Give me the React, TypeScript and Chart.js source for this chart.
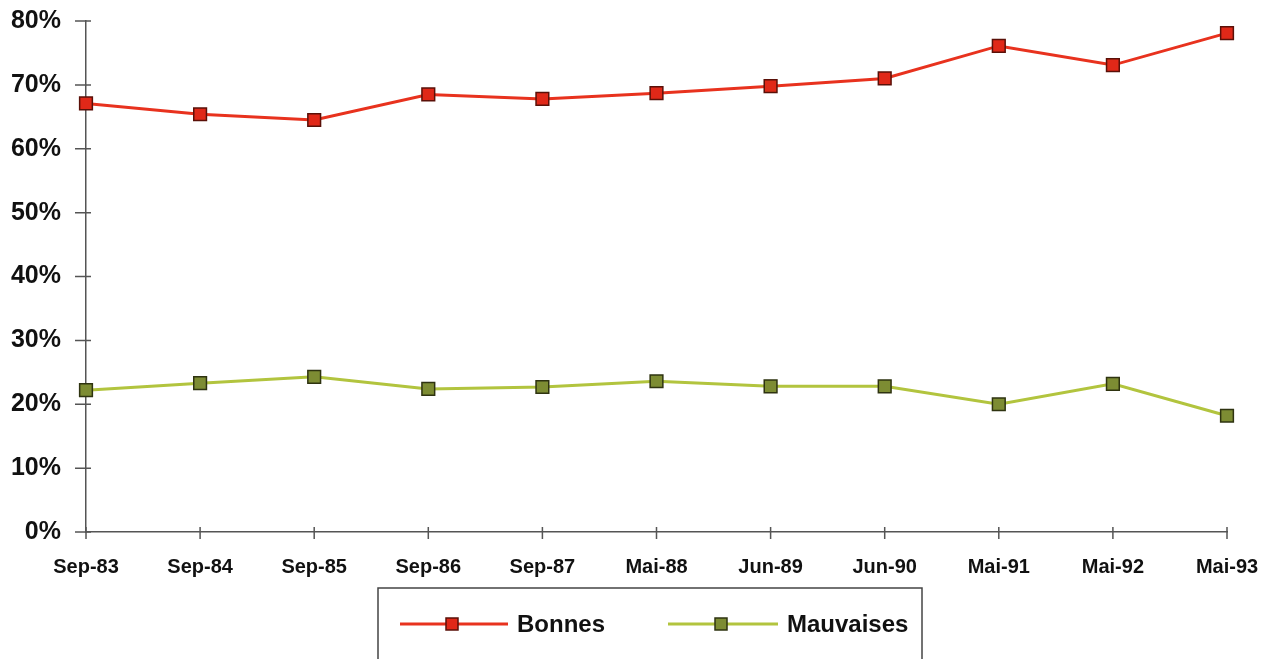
import React, { useEffect, useRef } from "react";
import { Chart, registerables } from "chart.js";

Chart.register(...registerables);

const categories = ["Sep-83", "Sep-84", "Sep-85", "Sep-86", "Sep-87", "Mai-88", "Jun-89", "Jun-90", "Mai-91", "Mai-92", "Mai-93"];
const bonnes = [67.1, 65.4, 64.5, 68.5, 67.8, 68.7, 69.8, 71.0, 76.1, 73.1, 78.1];
const mauvaises = [22.2, 23.3, 24.3, 22.4, 22.7, 23.6, 22.8, 22.8, 20.0, 23.2, 18.2];
const seriesNames = ["Bonnes", "Mauvaises"];
const yTicks = [0, 10, 20, 30, 40, 50, 60, 70, 80];

const FONT = "'Liberation Sans', Arial, sans-serif";

const RED_LINE = "#e8321e";
const RED_FILL = "#e02818";
const RED_EDGE = "#5a1008";
const GREEN_LINE = "#b2c43e";
const GREEN_FILL = "#7d8c33";
const GREEN_EDGE = "#2e3310";

const crossTicks = {
  id: "crossTicks",
  afterDraw(chart: any) {
    const ctx = chart.ctx;
    const { left, bottom } = chart.chartArea;
    const xs = chart.scales.x;
    const ys = chart.scales.y;
    ctx.save();
    ctx.strokeStyle = "#555";
    ctx.lineWidth = 1.5;
    ctx.beginPath();
    yTicks.forEach((v) => {
      const y = ys.getPixelForValue(v);
      ctx.moveTo(left - 11, y);
      ctx.lineTo(left + 5, y);
    });
    categories.forEach((_, i) => {
      const x = xs.getPixelForValue(i);
      ctx.moveTo(x, bottom - 5);
      ctx.lineTo(x, bottom + 7);
    });
    ctx.stroke();
    ctx.restore();
  },
};

function drawMarker(ctx: any, x: number, y: number, fill: string, edge: string) {
  ctx.fillStyle = fill;
  ctx.strokeStyle = edge;
  ctx.lineWidth = 1.5;
  ctx.fillRect(x - 6, y - 6, 12, 12);
  ctx.strokeRect(x - 6, y - 6, 12, 12);
}

const boxLegend = {
  id: "boxLegend",
  afterDraw(chart: any) {
    const ctx = chart.ctx;
    ctx.save();
    ctx.strokeStyle = "#444";
    ctx.lineWidth = 1.5;
    ctx.strokeRect(378, 588, 544, 100);
    const cy = 624;
    ctx.font = `bold 24px ${FONT}`;
    ctx.textBaseline = "middle";
    // Bonnes
    ctx.strokeStyle = RED_LINE;
    ctx.lineWidth = 3;
    ctx.beginPath();
    ctx.moveTo(400, cy);
    ctx.lineTo(508, cy);
    ctx.stroke();
    drawMarker(ctx, 452, cy, RED_FILL, RED_EDGE);
    ctx.fillStyle = "#111";
    ctx.fillText(seriesNames[0], 517, cy + 1);
    // Mauvaises
    ctx.strokeStyle = GREEN_LINE;
    ctx.lineWidth = 3;
    ctx.beginPath();
    ctx.moveTo(668, cy);
    ctx.lineTo(778, cy);
    ctx.stroke();
    drawMarker(ctx, 721, cy, GREEN_FILL, GREEN_EDGE);
    ctx.fillStyle = "#111";
    ctx.fillText(seriesNames[1], 787, cy + 1);
    ctx.restore();
  },
};

export default function App() {
  const ref = useRef<HTMLCanvasElement>(null);
  useEffect(() => {
    document.body.style.margin = "0";
    const chart = new Chart(ref.current as HTMLCanvasElement, {
      type: "line",
      data: {
        labels: categories,
        datasets: [
          {
            label: seriesNames[0],
            data: bonnes,
            borderColor: RED_LINE,
            borderWidth: 3,
            backgroundColor: RED_FILL,
            pointBackgroundColor: RED_FILL,
            pointBorderColor: RED_EDGE,
            pointBorderWidth: 1.5,
            pointStyle: "rect",
            pointRadius: 9,
            tension: 0,
          },
          {
            label: seriesNames[1],
            data: mauvaises,
            borderColor: GREEN_LINE,
            borderWidth: 3,
            backgroundColor: GREEN_FILL,
            pointBackgroundColor: GREEN_FILL,
            pointBorderColor: GREEN_EDGE,
            pointBorderWidth: 1.5,
            pointStyle: "rect",
            pointRadius: 9,
            tension: 0,
          },
        ],
      },
      options: {
        responsive: false,
        animation: false,
        layout: { padding: { top: 21, right: 46, left: 0, bottom: 0 } },
        plugins: { legend: { display: false }, tooltip: { enabled: false } },
        scales: {
          x: {
            type: "category",
            offset: false,
            grid: { display: false },
            border: { display: true, color: "#555", width: 1.5 },
            ticks: {
              font: { family: FONT, size: 20, weight: "bold" },
              color: "#111",
              padding: 15,
              maxRotation: 0,
              autoSkip: false,
            },
            afterFit: (s: any) => {
              s.height = 127;
              s.paddingLeft = 0;
              s.paddingRight = 0;
            },
          },
          y: {
            min: 0,
            max: 80,
            grid: { display: false },
            border: { display: true, color: "#555", width: 1.5 },
            ticks: {
              stepSize: 10,
              font: { family: FONT, size: 25, weight: "bold" },
              color: "#111",
              padding: 17,
              callback: (v: any) => `${v}%`,
            },
            afterFit: (s: any) => {
              s.width = 86;
              s.paddingTop = 0;
              s.paddingBottom = 0;
            },
          },
        },
      },
      plugins: [crossTicks, boxLegend],
    });
    return () => chart.destroy();
  }, []);
  return (
    <div style={{ position: "absolute", left: 0, top: 0, width: 1273, height: 659, background: "#fff" }}>
      <canvas ref={ref} width={1273} height={659} />
    </div>
  );
}
